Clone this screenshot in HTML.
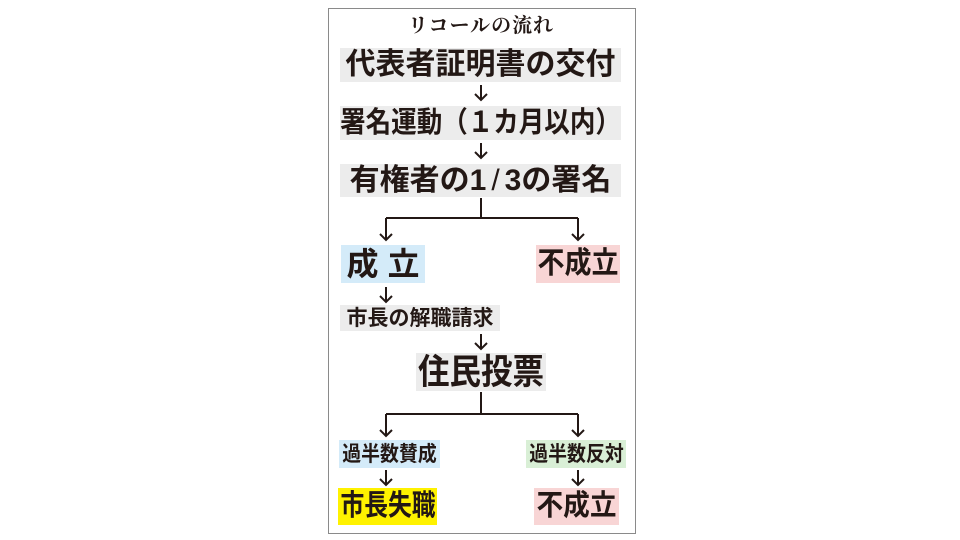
<!DOCTYPE html>
<html><head><meta charset="utf-8"><style>
html,body{margin:0;padding:0;background:#fff;}
body{width:960px;height:540px;position:relative;overflow:hidden;font-family:"Liberation Sans","Noto Sans CJK JP",sans-serif;color:#231815;}
.frame{position:absolute;left:328px;top:8px;width:306px;height:524px;border:1px solid #8a8a8a;}
.b{position:absolute;display:flex;align-items:center;justify-content:center;font-weight:bold;white-space:nowrap;line-height:1;}
.b span{display:inline-block;}
svg{position:absolute;left:0;top:0;}
</style></head><body>
<div class="frame"></div>
<div class="b" style="left:370px;top:12px;width:222px;height:24px;font-size:20px;font-family:'Noto Serif CJK SC','Noto Sans CJK JP',serif;letter-spacing:1px;">リコールの流れ</div>
<div class="b" style="left:340px;top:48px;width:281px;height:34px;font-size:30px;background:#ececec;">代表者証明書の交付</div>
<div class="b" style="left:340px;top:106px;width:281px;height:34px;font-size:29px;background:#ececec;"><span style="transform:scaleX(0.88)">署名運動（１カ月以内）</span></div>
<div class="b" style="left:340px;top:164px;width:281px;height:33px;font-size:30px;background:#ececec;">有権者の1<span style="font-weight:normal;margin:0 5px;">/</span>3の署名</div>
<div class="b" style="left:341px;top:245px;width:84px;height:38px;font-size:32px;background:#d4ebf9;">成 立</div>
<div class="b" style="left:536px;top:245px;width:84px;height:38px;font-size:30px;background:#f8d5d5;"><span style="transform:scaleX(0.9)">不成立</span></div>
<div class="b" style="left:340px;top:305px;width:160px;height:26px;font-size:21px;background:#ececec;">市長の解職請求</div>
<div class="b" style="left:416px;top:353px;width:130px;height:38px;font-size:35px;background:#ececec;"><span style="transform:scaleX(0.9)">住民投票</span></div>
<div class="b" style="left:339px;top:440px;width:101px;height:28px;font-size:21px;background:#d4ebf9;"><span style="transform:scaleX(0.9)">過半数賛成</span></div>
<div class="b" style="left:526px;top:440px;width:100px;height:28px;font-size:21px;background:#d9efd6;"><span style="transform:scaleX(0.9)">過半数反対</span></div>
<div class="b" style="left:338px;top:488px;width:99px;height:37px;font-size:29px;background:#fff200;"><span style="transform:scaleX(0.82)">市長失職</span></div>
<div class="b" style="left:534px;top:488px;width:85px;height:37px;font-size:29px;background:#f8d5d5;"><span style="transform:scaleX(0.92)">不成立</span></div>
<svg width="960" height="540" fill="none" stroke="#231815" stroke-width="2">
<g>
<path d="M481 85V100M475 94L481 100L487 94"/>
<path d="M481 143V158M475 152L481 158L487 152"/>
<path d="M481 198V218M386 218H578M386 218V240M380 234L386 240L392 234M578 218V240M572 234L578 240L584 234"/>
<path d="M386 287V302M380 296L386 302L392 296"/>
<path d="M481 334V349M475 343L481 349L487 343"/>
<path d="M481 392V414M386 414H578M386 414V436M380 430L386 436L392 430M578 414V436M572 430L578 436L584 430"/>
<path d="M386 470V485M380 479L386 485L392 479"/>
<path d="M578 470V485M572 479L578 485L584 479"/>
</g>
</svg>
</body></html>
